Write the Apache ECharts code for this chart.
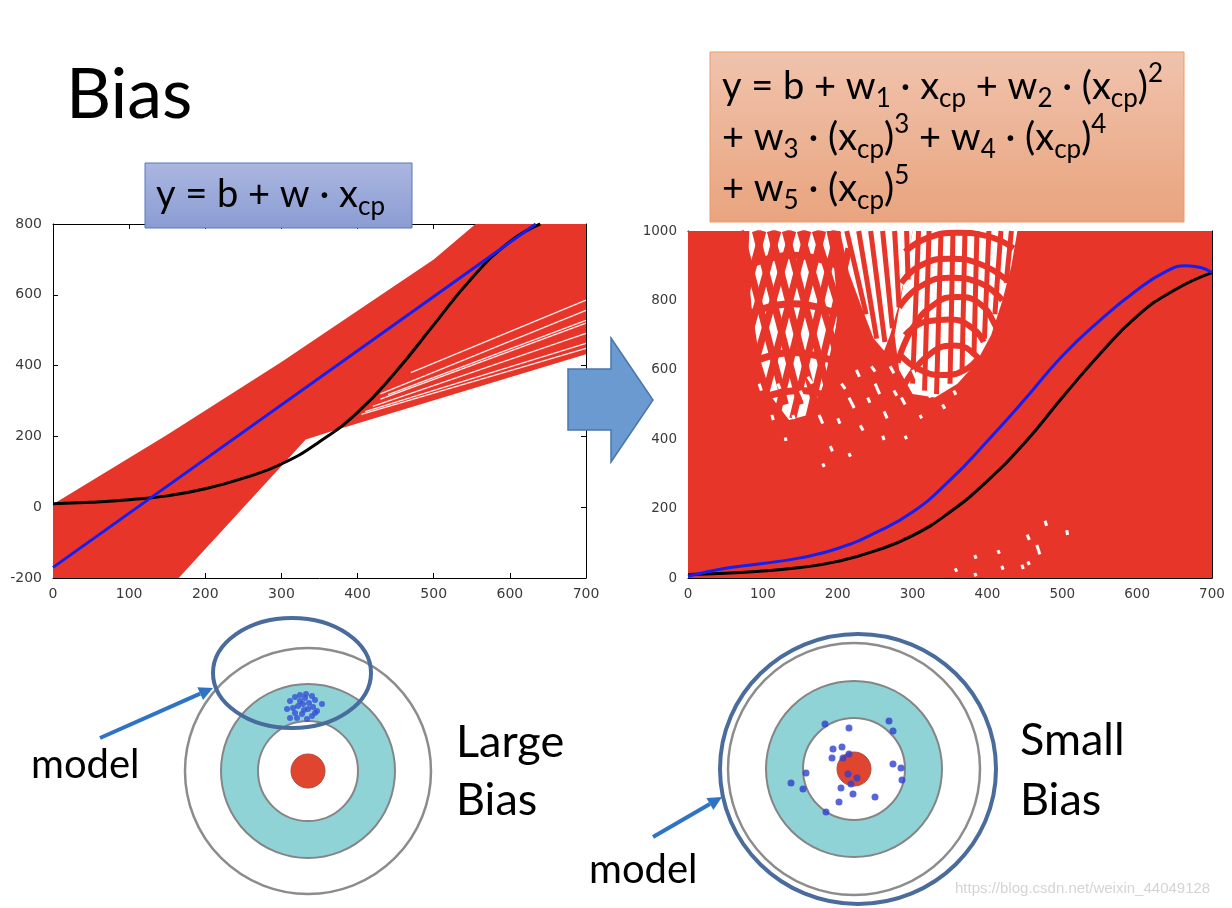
<!DOCTYPE html>
<html><head><meta charset="utf-8">
<script src="https://cdn.jsdelivr.net/npm/echarts@6/dist/echarts.min.js"></script>
<style>html,body{margin:0;padding:0;background:#fff}#c{width:1232px;height:908px}</style>
</head><body><div id="c"></div>
<script>
// ---------- tick labels ----------
const xTickValues = [0, 100, 200, 300, 400, 500, 600, 700];
const leftYTicks = [-200, 0, 200, 400, 600, 800];
const rightYTicks = [0, 200, 400, 600, 800, 1000];

// ---------- left chart (linear model) ----------
const leftRedEnvelope = [[0,-200],[0,8],[150,205],[300,410],[500,700],[555,800],[700,800],[700,432],[367,215],[332,191],[165,-200]];
const leftGapLines = [
  [[470,380],[700,585]],
  [[430,320],[700,556]],
  [[440,318],[700,528]],
  [[430,305],[700,520]],
  [[420,285],[700,491]],
  [[410,270],[700,463]],
  [[405,262],[700,449]]
];
const leftBlue = [[0,-170],[634,800]];
const leftBlack = [[0,10],[50,14],[100,21],[150,32],[200,52],[250,82],[300,122],[350,185],[400,268],[450,382],[500,515],[550,647],[600,750],[640,800]];

// ---------- right chart (5th order model) ----------
const rightRedFill = [[0,0],[700,0],[700,1000],[0,1000]];
const holeStripes = [[203,1000],[300,1000],[292,900],[282,790],[270,700],[262,655],[248,690],[232,780],[215,880]];
const holeLeftMesh = [[82,1000],[185,1000],[195,900],[200,780],[195,650],[178,540],[160,470],[135,455],[112,520],[95,640],[85,780],[80,900]];
const holeArcs = [[300,1000],[440,1000],[432,900],[420,800],[405,700],[385,620],[360,560],[330,520],[300,530],[282,600],[276,700],[288,850]];
const rightMeshLines = [
  // lattice over the left mesh
  [[70,1000],[130,500]], [[90,1000],[150,500]], [[110,1000],[170,500]], [[130,1000],[190,520]], [[150,1000],[205,600]], [[170,1000],[210,720]], [[190,1000],[210,860]],
  [[200,1000],[140,460]], [[180,1000],[120,480]], [[160,1000],[100,500]], [[140,1000],[82,560]], [[120,1000],[75,650]], [[100,1000],[75,800]], [[215,950],[160,450]], [[210,800],[180,500]],
  [[80,900],[140,930],[200,900]], [[80,760],[140,790],[200,760]], [[85,620],[140,650],[200,620]], [[100,520],[150,540],[190,520]],
  // stripes over the centre
  [[212,1000],[238,760]], [[228,1000],[252,690]], [[244,1000],[263,680]], [[260,1000],[273,720]], [[276,1000],[282,780]], [[292,1000],[294,860]],
  // verticals and arcs on the right
  [[308,1000],[300,560]], [[322,1000],[316,540]], [[338,1000],[332,530]], [[354,1000],[350,560]], [[370,1000],[366,590]], [[386,1000],[382,640]], [[402,1000],[396,690]], [[418,1000],[410,760]], [[432,1000],[425,850]],
  [[280,620],[300,720],[330,790],[360,810],[390,790],[410,730],[425,650]],
  [[285,850],[310,900],[350,920],[390,905],[425,860]],
  [[290,560],[320,640],[355,670],[385,640],[400,580]],
  [[290,700],[320,740],[350,745],[380,720],[395,680]],
  [[290,940],[320,980],[360,995],[400,985],[435,950]],
  [[282,780],[310,840],[350,865],[390,850],[420,800]],
  [[285,640],[310,600],[340,585],[370,600],[390,640]]
];
const rightSpecks = [
  [[95,560],[98,540]], [[112,470],[114,455]], [[130,405],[131,395]], [[150,540],[155,515]], [[175,470],[180,445]],
  [[190,380],[193,365]], [[215,520],[222,490]], [[230,440],[234,425]], [[250,560],[256,530]], [[262,480],[266,460]],
  [[285,520],[290,500]], [[300,600],[305,575]], [[320,540],[324,520]], [[270,610],[275,590]], [[245,610],[250,595]],
  [[205,560],[210,545]], [[290,410],[292,400]], [[310,470],[312,460]], [[180,330],[182,320]], [[160,580],[166,560]],
  [[225,600],[229,580]], [[200,460],[203,445]], [[240,520],[243,505]], [[275,540],[279,525]], [[340,500],[343,488]],
  [[355,540],[358,528]], [[140,470],[142,458]], [[120,560],[123,545]], [[260,410],[262,398]], [[215,360],[217,350]],
  [[477,165],[479,150]], [[453,125],[456,110]], [[466,95],[470,68]], [[414,80],[416,70]], [[419,35],[421,24]],
  [[446,38],[448,26]], [[454,48],[456,38]], [[383,66],[385,56]], [[357,28],[359,18]], [[383,14],[385,5]], [[506,138],[507,124]]
];
const rightBlue = [[0,5],[50,28],[100,42],[150,58],[200,85],[250,130],[300,190],[350,282],[400,395],[450,515],[500,640],[550,742],[600,830],[640,885],[665,900],[685,895],[700,880]];
const rightBlack = [[0,10],[50,14],[100,20],[150,30],[200,48],[250,78],[300,122],[350,190],[400,280],[450,390],[500,520],[550,645],[600,755],[650,830],[700,880]];

// ---------- target dots (offsets from target centre, px) ----------
const largeBiasDots = [[-18,70],[-13,74],[-8,76],[-2,77],[4,75],[7,71],[14,67],[-21,62],[-15,63],[-10,65],[-5,67],[1,68],[5,64],[9,60],[-18,53],[-11,53],[-6,57],[-1,52],[4,55],[-8,70],[0,62],[-13,58],[-4,61],[7,58],[-3,73]];
const smallBiasDots = [[-29,45],[-5,41],[35,48],[39,38],[-21,20],[-12,22],[-22,11],[-11,11],[-5,15],[39,5],[47,1],[48,-11],[-48,-4],[-63,-14],[-51,-20],[-6,-5],[3,-9],[-3,-15],[-13,-19],[-1,-25],[21,-28],[-15,-33],[-28,-43]];

const RED = '#e8352a';
const chart = echarts.init(document.getElementById('c'));

function polygonSeries(xi, polys, color, z) {
  return {type:'custom', xAxisIndex:xi, yAxisIndex:xi, silent:true, z:z, animation:false, clip:true,
    data: polys.map(p => p[0]),
    renderItem: (params, api) => ({type:'polygon', shape:{points: polys[params.dataIndex].map(p => api.coord(p))}, style:{fill:color}})
  };
}
function pathSeries(xi, path, color, width, smooth, z, opacity) {
  return {type:'line', xAxisIndex:xi, yAxisIndex:xi, data:path, symbol:'none', showSymbol:false, smooth:smooth, silent:true, z:z, animation:false,
    lineStyle:{color:color, width:width, opacity: opacity == null ? 1 : opacity}};
}
function frameX(grid, pos, show) {
  return {gridIndex:grid, type:'value', min:0, max:700, interval:100, position:pos,
    axisLine:{onZero:false, lineStyle:{color:'#000', width:1}},
    axisTick:{inside:true, length:5, lineStyle:{color:'#000'}},
    axisLabel:{show:show, color:'#3a3a3a', fontSize:grid===0?14:13.5, fontFamily:'DejaVu Sans', margin:9, formatter: v => String(v)},
    splitLine:{show:false}};
}
function frameY(grid, pos, show, ticks) {
  const iv = ticks[1]-ticks[0];
  return {gridIndex:grid, type:'value', min:ticks[0], max:ticks[ticks.length-1], interval:iv, position:pos,
    axisLine:{onZero:false, lineStyle:{color:'#000', width:1}},
    axisTick:{inside:true, length:5, lineStyle:{color:'#000'}},
    axisLabel:{show:show, color:'#3a3a3a', fontSize:grid===0?14:13.5, fontFamily:'DejaVu Sans', margin:11, formatter: v => String(v)},
    splitLine:{show:false}};
}
function hiddenAxis(grid) { return {gridIndex:grid, type:'value', min:-123, max:123, show:false}; }

const series = [];
// left chart
series.push(polygonSeries(0, [leftRedEnvelope], RED, 1));
leftGapLines.forEach(p => series.push(pathSeries(0, p, '#ffffff', 1.3, false, 2, 0.9)));
series.push(pathSeries(0, leftBlack, '#000000', 3, true, 4));
series.push(pathSeries(0, leftBlue, '#1420f0', 3, false, 5));
// right chart
series.push(polygonSeries(2, [rightRedFill], RED, 1));
series.push(polygonSeries(2, [holeStripes, holeLeftMesh, holeArcs], '#ffffff', 2));
rightMeshLines.forEach((p, i) => series.push(pathSeries(2, p, RED, (i < 19) ? 7 : (p.length > 2 ? 6 : 5), p.length > 2, 3)));
rightSpecks.forEach(p => series.push(pathSeries(2, p, '#ffffff', 3, false, 3)));
series.push(pathSeries(2, rightBlack, '#000000', 3, true, 4));
series.push(pathSeries(2, rightBlue, '#1420f0', 3, true, 5));
// target dots
series.push({type:'scatter', xAxisIndex:4, yAxisIndex:4, data:largeBiasDots, symbolSize:6, itemStyle:{color:'#3550d6'}, silent:true, z:10, animation:false});
series.push({type:'scatter', xAxisIndex:5, yAxisIndex:5, data:smallBiasDots, symbolSize:7, itemStyle:{color:'#2f40cf'}, silent:true, z:10, animation:false});

const FONT = 'Lato, "Open Sans", sans-serif';
function target(cx, cy, rOuter, rTeal, rInner, rDot) {
  return [
    {type:'circle', shape:{cx:cx, cy:cy, r:rOuter}, style:{fill:'#ffffff', stroke:'#8c8c8c', lineWidth:2.5}, z:1, silent:true},
    {type:'circle', shape:{cx:cx, cy:cy, r:rTeal}, style:{fill:'#8fd3d7', stroke:'#858585', lineWidth:2}, z:2, silent:true},
    {type:'circle', shape:{cx:cx, cy:cy, r:rInner}, style:{fill:'#ffffff', stroke:'#858585', lineWidth:2}, z:3, silent:true},
    {type:'circle', shape:{cx:cx, cy:cy, r:rDot}, style:{fill:'#e0452f', stroke:'#b24a3c', lineWidth:1}, z:4, silent:true}
  ];
}
function arrow(x1, y1, x2, y2) {
  const dx = x2-x1, dy = y2-y1, L = Math.hypot(dx, dy), ux = dx/L, uy = dy/L;
  const bx = x2-14*ux, by = y2-14*uy, px = -uy*7, py = ux*7;
  return [
    {type:'line', shape:{x1:x1, y1:y1, x2:bx, y2:by}, style:{stroke:'#2f74c4', lineWidth:4}, z:30, silent:true},
    {type:'polygon', shape:{points:[[x2,y2],[bx+px,by+py],[bx-px,by-py]]}, style:{fill:'#2f74c4'}, z:30, silent:true}
  ];
}
const mainRich = {
  m:{fontSize:38, fontFamily:FONT, color:'#000', lineHeight:51},
  s:{fontSize:26, fontFamily:FONT, color:'#000', lineHeight:20, verticalAlign:'bottom'},
  p:{fontSize:26, fontFamily:FONT, color:'#000', lineHeight:28, verticalAlign:'top'}
};

const graphic = [].concat(
  [{type:'text', x:66, y:95, style:{text:'Bias', fill:'#000', font:'70px ' + FONT, verticalAlign:'middle'}, z:20}],
  [{type:'rect', shape:{x:145, y:163, width:267, height:65},
    style:{fill:new echarts.graphic.LinearGradient(0,0,0,1,[{offset:0,color:'#abb7e0'},{offset:1,color:'#8b9cd3'}]), stroke:'#5877c0', lineWidth:1}, z:20, silent:true},
   {type:'text', x:156, y:169, style:{text:'{m|y = b + w · x}{s|cp}', rich:mainRich, verticalAlign:'top', align:'left'}, z:21, silent:true}],
  [{type:'rect', shape:{x:710, y:52, width:474, height:170},
    style:{fill:new echarts.graphic.LinearGradient(0,0,0,1,[{offset:0,color:'#f0c3ad'},{offset:1,color:'#e9a47e'}]), stroke:'#ed9b66', lineWidth:1}, z:20, silent:true},
   {type:'text', x:722, y:61, style:{text:
     '{m|y = b + w}{s|1}{m| · x}{s|cp}{m| + w}{s|2}{m| · (x}{s|cp}{m|)}{p|2}\n' +
     '{m|+ w}{s|3}{m| · (x}{s|cp}{m|)}{p|3}{m| + w}{s|4}{m| · (x}{s|cp}{m|)}{p|4}\n' +
     '{m|+ w}{s|5}{m| · (x}{s|cp}{m|)}{p|5}', rich:mainRich, verticalAlign:'top', align:'left'}, z:21, silent:true}],
  [{type:'polygon', shape:{points:[[568,369],[611,369],[611,338],[653,400],[611,462],[611,430],[568,430]]},
    style:{fill:'#6b9ad0', stroke:'#4a76aa', lineWidth:1.5}, z:25, silent:true}],
  target(308, 771, 123, 87, 50, 17),
  target(854, 769, 126, 88, 51, 17),
  [{type:'ellipse', shape:{cx:292, cy:673, rx:79, ry:55}, style:{fill:'none', stroke:'#4a6c9c', lineWidth:4}, z:40, silent:true},
   {type:'ellipse', shape:{cx:858, cy:769, rx:138, ry:135}, style:{fill:'none', stroke:'#4a6c9c', lineWidth:4}, z:40, silent:true}],
  arrow(100, 738, 213, 688),
  arrow(653, 837, 722, 797),
  [{type:'text', x:31, y:765, style:{text:'model', fill:'#000', font:'40px ' + FONT, verticalAlign:'middle'}, z:20},
   {type:'text', x:456, y:742, style:{text:'Large', fill:'#000', font:'45px ' + FONT, verticalAlign:'middle'}, z:20},
   {type:'text', x:456, y:800, style:{text:'Bias', fill:'#000', font:'45px ' + FONT, verticalAlign:'middle'}, z:20},
   {type:'text', x:589, y:870, style:{text:'model', fill:'#000', font:'40px ' + FONT, verticalAlign:'middle'}, z:20},
   {type:'text', x:1020, y:740, style:{text:'Small', fill:'#000', font:'45px ' + FONT, verticalAlign:'middle'}, z:20},
   {type:'text', x:1020, y:800, style:{text:'Bias', fill:'#000', font:'45px ' + FONT, verticalAlign:'middle'}, z:20},
   {type:'text', x:955, y:889, style:{text:'https://blog.csdn.net/weixin_44049128', fill:'#d4d4d4', font:'15px "Liberation Sans", sans-serif', verticalAlign:'middle'}, z:20}]
);

chart.setOption({
  animation:false,
  backgroundColor:'#ffffff',
  grid:[
    {left:53, top:224, width:533, height:354},
    {left:688, top:231, width:524, height:347},
    {left:185, top:648, width:246, height:246},
    {left:731, top:646, width:246, height:246}
  ],
  xAxis:[frameX(0,'bottom',true), frameX(0,'top',false), frameX(1,'bottom',true), frameX(1,'top',false), hiddenAxis(2), hiddenAxis(3)],
  yAxis:[frameY(0,'left',true,leftYTicks), frameY(0,'right',false,leftYTicks), frameY(1,'left',true,rightYTicks), frameY(1,'right',false,rightYTicks), hiddenAxis(2), hiddenAxis(3)],
  series: series,
  graphic: graphic
});
</script></body></html>
